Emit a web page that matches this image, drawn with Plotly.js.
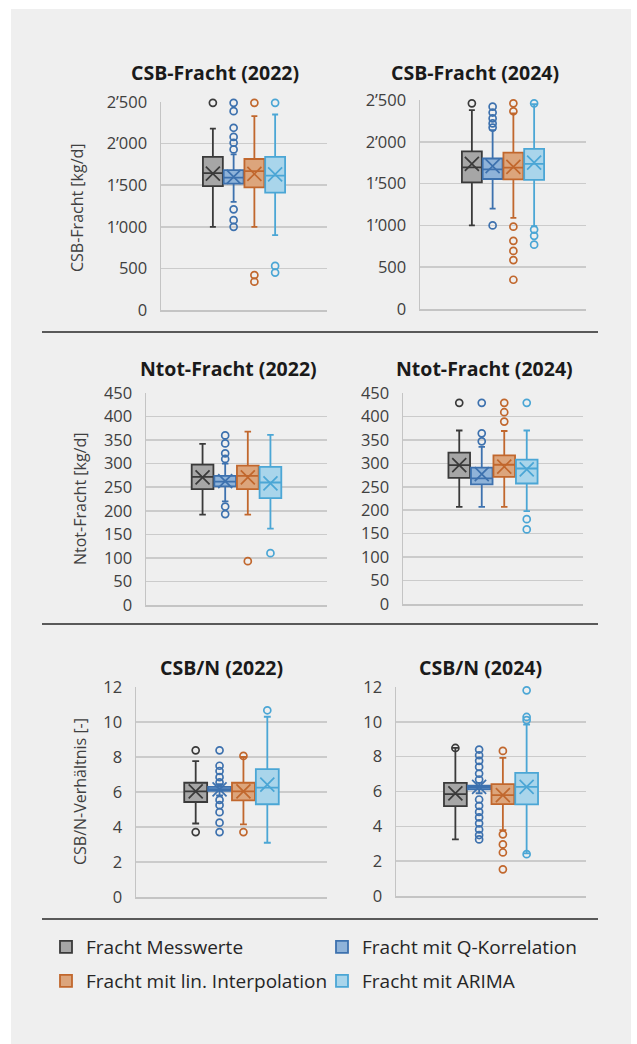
<!DOCTYPE html>
<html><head><meta charset="utf-8">
<script src="https://cdn.plot.ly/plotly-3.0.1.min.js"></script>
<style>html,body{margin:0;padding:0;background:#fff}</style>
</head><body><div id="chart" style="width:637px;height:1044px"></div>
<script>
// ---------- DATA ----------
const seriesNames = ['Fracht Messwerte', 'Fracht mit Q-Korrelation', 'Fracht mit lin. Interpolation', 'Fracht mit ARIMA'];
const panelTitles = ['CSB-Fracht (2022)', 'CSB-Fracht (2024)', 'Ntot-Fracht (2022)', 'Ntot-Fracht (2024)', 'CSB/N (2022)', 'CSB/N (2024)'];
const rowAxisTitles = ['CSB-Fracht [kg/d]', 'Ntot-Fracht [kg/d]', 'CSB/N-Verhältnis [-]'];

// CSB-Fracht 2022
const csb22Low  = [1000, 1300, 1000, 900];
const csb22Q1   = [1490, 1520, 1475, 1410];
const csb22Med  = [1645, 1590, 1670, 1615];
const csb22Q3   = [1840, 1680, 1815, 1840];
const csb22High = [2180, 1870, 2330, 2350];
const csb22Mean = [1640, 1600, 1635, 1630];
const csb22Out  = [[2490], [2490, 2390, 2190, 2080, 2010, 1930, 1210, 1080, 1000], [2490, 420, 340], [2490, 530, 450]];

// CSB-Fracht 2024
const csb24Low  = [1000, 1200, 1090, 990];
const csb24Q1   = [1515, 1555, 1550, 1545];
const csb24Med  = [1695, 1670, 1690, 1735];
const csb24Q3   = [1885, 1800, 1870, 1915];
const csb24High = [2380, 2140, 2340, 2450];
const csb24Mean = [1735, 1710, 1700, 1750];
const csb24Out  = [[2460], [2420, 2350, 2280, 2220, 2170, 1000], [2460, 2365, 985, 815, 695, 585, 350], [2460, 950, 875, 770]];

// Ntot-Fracht 2022
const ntot22Low  = [192, 220, 192, 162];
const ntot22Q1   = [246, 252, 246, 227];
const ntot22Med  = [272, 262, 274, 260];
const ntot22Q3   = [298, 274, 296, 293];
const ntot22High = [342, 300, 368, 361];
const ntot22Mean = [271, 263, 271, 258];
const ntot22Out  = [[], [360, 343, 322, 310, 209, 193], [93], [110]];

// Ntot-Fracht 2024
const ntot24Low  = [207, 207, 207, 198];
const ntot24Q1   = [269, 255, 271, 257];
const ntot24Med  = [296, 268, 297, 289];
const ntot24Q3   = [323, 291, 317, 308];
const ntot24High = [370, 335, 369, 370];
const ntot24Mean = [296, 277, 293, 287];
const ntot24Out  = [[429], [429, 364, 347], [429, 409, 389], [429, 181, 159]];

// CSB/N 2022
const ratio22Low  = [4.2, 5.8, 4.15, 3.1];
const ratio22Q1   = [5.43, 6.06, 5.52, 5.3];
const ratio22Med  = [6.04, 6.17, 6.04, 6.25];
const ratio22Q3   = [6.53, 6.29, 6.53, 7.31];
const ratio22High = [7.77, 6.45, 8.0, 10.3];
const ratio22Mean = [6.04, 6.15, 6.04, 6.42];
const ratio22Out  = [[8.38, 3.71], [8.38, 7.5, 7.2, 6.85, 6.55, 5.55, 5.25, 4.85, 4.25, 3.71], [8.06, 3.71], [10.67]];

// CSB/N 2024
const ratio24Low  = [3.25, 5.9, 3.78, 2.45];
const ratio24Q1   = [5.16, 6.13, 5.27, 5.26];
const ratio24Med  = [5.85, 6.25, 5.79, 6.27];
const ratio24Q3   = [6.5, 6.33, 6.42, 7.07];
const ratio24High = [8.5, 6.5, 7.93, 9.84];
const ratio24Mean = [5.89, 6.27, 5.79, 6.27];
const ratio24Out  = [[8.5], [8.41, 8.08, 7.76, 7.41, 7.03, 6.69, 5.54, 5.18, 4.83, 4.51, 4.17, 3.82, 3.5, 3.25], [8.33, 3.54, 2.96, 2.5, 1.53], [11.81, 10.28, 10.1, 2.4]];

const yMax  = [2500, 2500, 450, 450, 12, 12];
const yStep = [500, 500, 50, 50, 2, 2];

// ---------- STYLE ----------
const lineColors = ['#3a3a3a', '#3d71ae', '#c1672d', '#4ba6d5'];
const fillColors = ['#a6a6a6', '#8fb3d9', '#dca57c', '#a9d5eb'];
const FONT = 'Open Sans, Noto Sans, sans-serif';

const panels = [
  {low: csb22Low, q1: csb22Q1, med: csb22Med, q3: csb22Q3, high: csb22High, mean: csb22Mean, out: csb22Out},
  {low: csb24Low, q1: csb24Q1, med: csb24Med, q3: csb24Q3, high: csb24High, mean: csb24Mean, out: csb24Out},
  {low: ntot22Low, q1: ntot22Q1, med: ntot22Med, q3: ntot22Q3, high: ntot22High, mean: ntot22Mean, out: ntot22Out},
  {low: ntot24Low, q1: ntot24Q1, med: ntot24Med, q3: ntot24Q3, high: ntot24High, mean: ntot24Mean, out: ntot24Out},
  {low: ratio22Low, q1: ratio22Q1, med: ratio22Med, q3: ratio22Q3, high: ratio22High, mean: ratio22Mean, out: ratio22Out},
  {low: ratio24Low, q1: ratio24Q1, med: ratio24Med, q3: ratio24Q3, high: ratio24High, mean: ratio24Mean, out: ratio24Out}
];

// plot areas in pixels [x0, x1, yTop, yBottom]
const areas = [
  [161, 327, 102, 310], [420, 586, 100, 309],
  [146, 327, 393, 605], [403, 583, 393, 604],
  [136, 327, 687, 897], [396, 586, 687, 896]
];
const titlePos = [[215, 72], [475, 72], [228, 368], [484, 368], [221, 667], [480, 667]];
const yTitlePos = [[77, 208], [80, 499], [80, 792]];

const W = 637, H = 1044;
const px = v => v / W;
const py = v => (H - v) / H;

const legendStyle = {
  orientation: 'h', x: px(46), xanchor: 'left', yanchor: 'middle',
  itemwidth: 30, entrywidth: 231, entrywidthmode: 'pixels',
  font: {family: FONT, size: 19, color: '#262626'},
  bgcolor: 'rgba(0,0,0,0)', itemclick: false
};

const traces = [];
const layout = {
  width: W, height: H,
  margin: {l: 0, r: 0, t: 0, b: 0},
  paper_bgcolor: '#ffffff',
  plot_bgcolor: 'rgba(0,0,0,0)',
  separators: '.\u2019',
  showlegend: true,
  font: {family: FONT, color: '#404040'},
  annotations: [],
  shapes: [
    {type: 'rect', xref: 'paper', yref: 'paper', x0: px(11), x1: px(631), y0: py(1044), y1: py(9),
     fillcolor: '#efefef', line: {width: 0}, layer: 'below'},
    ...[332, 624, 919].map(y => ({type: 'line', xref: 'paper', yref: 'paper', x0: px(42), x1: px(598),
      y0: py(y), y1: py(y), line: {color: '#595959', width: 2}}))
  ],
  legend: Object.assign({}, legendStyle, {y: py(947)}),
  legend2: Object.assign({}, legendStyle, {y: py(981)})
};

panels.forEach((p, i) => {
  const n = i + 1;
  const xa = 'x' + (n === 1 ? '' : n), ya = 'y' + (n === 1 ? '' : n);
  const a = areas[i];
  layout['xaxis' + (n === 1 ? '' : n)] = {
    domain: [px(a[0]), px(a[1])], anchor: ya, range: [-2.5, 5.5],
    showgrid: false, zeroline: false, showticklabels: false, ticks: '',
    showline: true, linecolor: '#c4c4c4', linewidth: 1.5, fixedrange: true
  };
  layout['yaxis' + (n === 1 ? '' : n)] = {
    domain: [py(a[3]), py(a[2])], anchor: xa, range: [0, yMax[i]], dtick: yStep[i], tick0: 0,
    showgrid: true, gridcolor: '#cbcbcb', gridwidth: 1.5, zeroline: false,
    showline: true, linecolor: '#c4c4c4', linewidth: 1.5, ticks: '',
    ticklabelstandoff: 9, separatethousands: true,
    tickfont: {family: FONT, size: 16.5, color: '#404040'}, fixedrange: true
  };
  layout.annotations.push({
    xref: 'paper', yref: 'paper', x: px(titlePos[i][0]), y: py(titlePos[i][1]),
    xanchor: 'center', yanchor: 'middle', showarrow: false,
    text: '<b>' + panelTitles[i] + '</b>', font: {family: FONT, size: 19.5, color: '#1a1a1a'}
  });
  for (let s = 0; s < 4; s++) {
    traces.push({
      type: 'box', name: seriesNames[s], xaxis: xa, yaxis: ya,
      x: [s], q1: [p.q1[s]], median: [p.med[s]], q3: [p.q3[s]],
      lowerfence: [p.low[s]], upperfence: [p.high[s]],
      width: 0.96, whiskerwidth: 0.3, boxpoints: false,
      line: {color: lineColors[s], width: 1.8}, fillcolor: fillColors[s],
      legendgroup: 's' + s, showlegend: i === 0, legend: s < 2 ? 'legend' : 'legend2',
      hoverinfo: 'skip'
    });
    traces.push({
      type: 'scatter', mode: 'markers', xaxis: xa, yaxis: ya, showlegend: false,
      x: p.out[s].map(() => s), y: p.out[s], cliponaxis: false,
      marker: {symbol: 'circle-open', size: 7, color: lineColors[s], line: {width: 1.7, color: lineColors[s]}},
      hoverinfo: 'skip'
    });
    traces.push({
      type: 'scatter', mode: 'markers', xaxis: xa, yaxis: ya, showlegend: false,
      x: [s], y: [p.mean[s]], cliponaxis: false,
      marker: {symbol: 'x-thin-open', size: 14, color: lineColors[s], line: {width: 1.7, color: lineColors[s]}},
      hoverinfo: 'skip'
    });
  }
});

rowAxisTitles.forEach((t, r) => {
  layout.annotations.push({
    xref: 'paper', yref: 'paper', x: px(yTitlePos[r][0]), y: py(yTitlePos[r][1]),
    xanchor: 'center', yanchor: 'middle', showarrow: false, textangle: -90,
    text: t, font: {family: FONT, size: 16, color: '#404040'}
  });
});

Plotly.newPlot('chart', traces, layout, {staticPlot: true, displayModeBar: false});
</script>
</body></html>
